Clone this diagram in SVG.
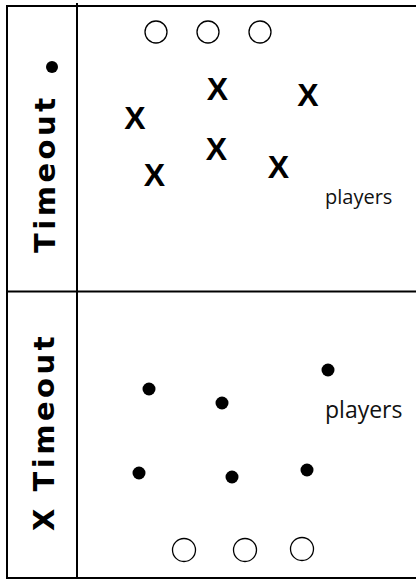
<svg xmlns="http://www.w3.org/2000/svg" width="416" height="580" viewBox="0 0 416 580">
  <style>
    .frame { stroke: #000; stroke-width: 2; fill: none; }
    .ring { fill: #fff; stroke: #000; stroke-width: 1.3; }
    .dot { fill: #000; }
    .mark { font-family: "Liberation Sans", Arial, sans-serif; font-weight: bold; font-size: 32px; fill: #000; text-anchor: middle; }
    .side { font-family: "DejaVu Sans", Verdana, sans-serif; font-weight: bold; font-size: 29px; letter-spacing: 3.5px; fill: #000; }
    .lbl { font-family: "Open Sans", "Liberation Sans", sans-serif; fill: #111; }
  </style>
  <rect width="416" height="580" fill="#fff"/>
  <g id="frame" class="frame">
    <line x1="7" y1="6" x2="416" y2="6"/>
    <line x1="7" y1="5" x2="7" y2="579"/>
    <line x1="77" y1="3" x2="77" y2="579"/>
    <line x1="7" y1="291.5" x2="416" y2="291.5"/>
    <line x1="7" y1="578" x2="416" y2="578"/>
  </g>
  <g id="top-panel">
    <g id="top-label">
      <text class="side" transform="translate(55,253) rotate(-90)">Timeout</text>
      <circle class="dot" cx="52" cy="67" r="6"/>
    </g>
    <g id="top-rings">
      <circle class="ring" cx="156" cy="32" r="11"/>
      <circle class="ring" cx="208" cy="32" r="11"/>
      <circle class="ring" cx="260" cy="32" r="11"/>
    </g>
    <g id="top-players">
      <text class="mark" x="135" y="129">X</text>
      <text class="mark" x="217.5" y="100">X</text>
      <text class="mark" x="308" y="106">X</text>
      <text class="mark" x="216.5" y="160">X</text>
      <text class="mark" x="154.5" y="186">X</text>
      <text class="mark" x="278.5" y="178">X</text>
    </g>
    <text id="top-players-label" class="lbl" x="325" y="204" font-size="20">players</text>
  </g>
  <g id="bottom-panel">
    <g id="bottom-label">
      <text class="side" transform="translate(54,531) rotate(-90)">X Timeout</text>
    </g>
    <g id="bottom-players">
      <circle class="dot" cx="149" cy="389" r="6.5"/>
      <circle class="dot" cx="222" cy="403" r="6.5"/>
      <circle class="dot" cx="328" cy="370" r="6.5"/>
      <circle class="dot" cx="139" cy="473" r="6.5"/>
      <circle class="dot" cx="232" cy="477" r="6.5"/>
      <circle class="dot" cx="307" cy="470" r="6.5"/>
    </g>
    <text id="bottom-players-label" class="lbl" x="325" y="418" font-size="23">players</text>
    <g id="bottom-rings">
      <circle class="ring" cx="184" cy="550" r="11.5"/>
      <circle class="ring" cx="245" cy="550" r="11.5"/>
      <circle class="ring" cx="302" cy="549" r="11.5"/>
    </g>
  </g>
</svg>
